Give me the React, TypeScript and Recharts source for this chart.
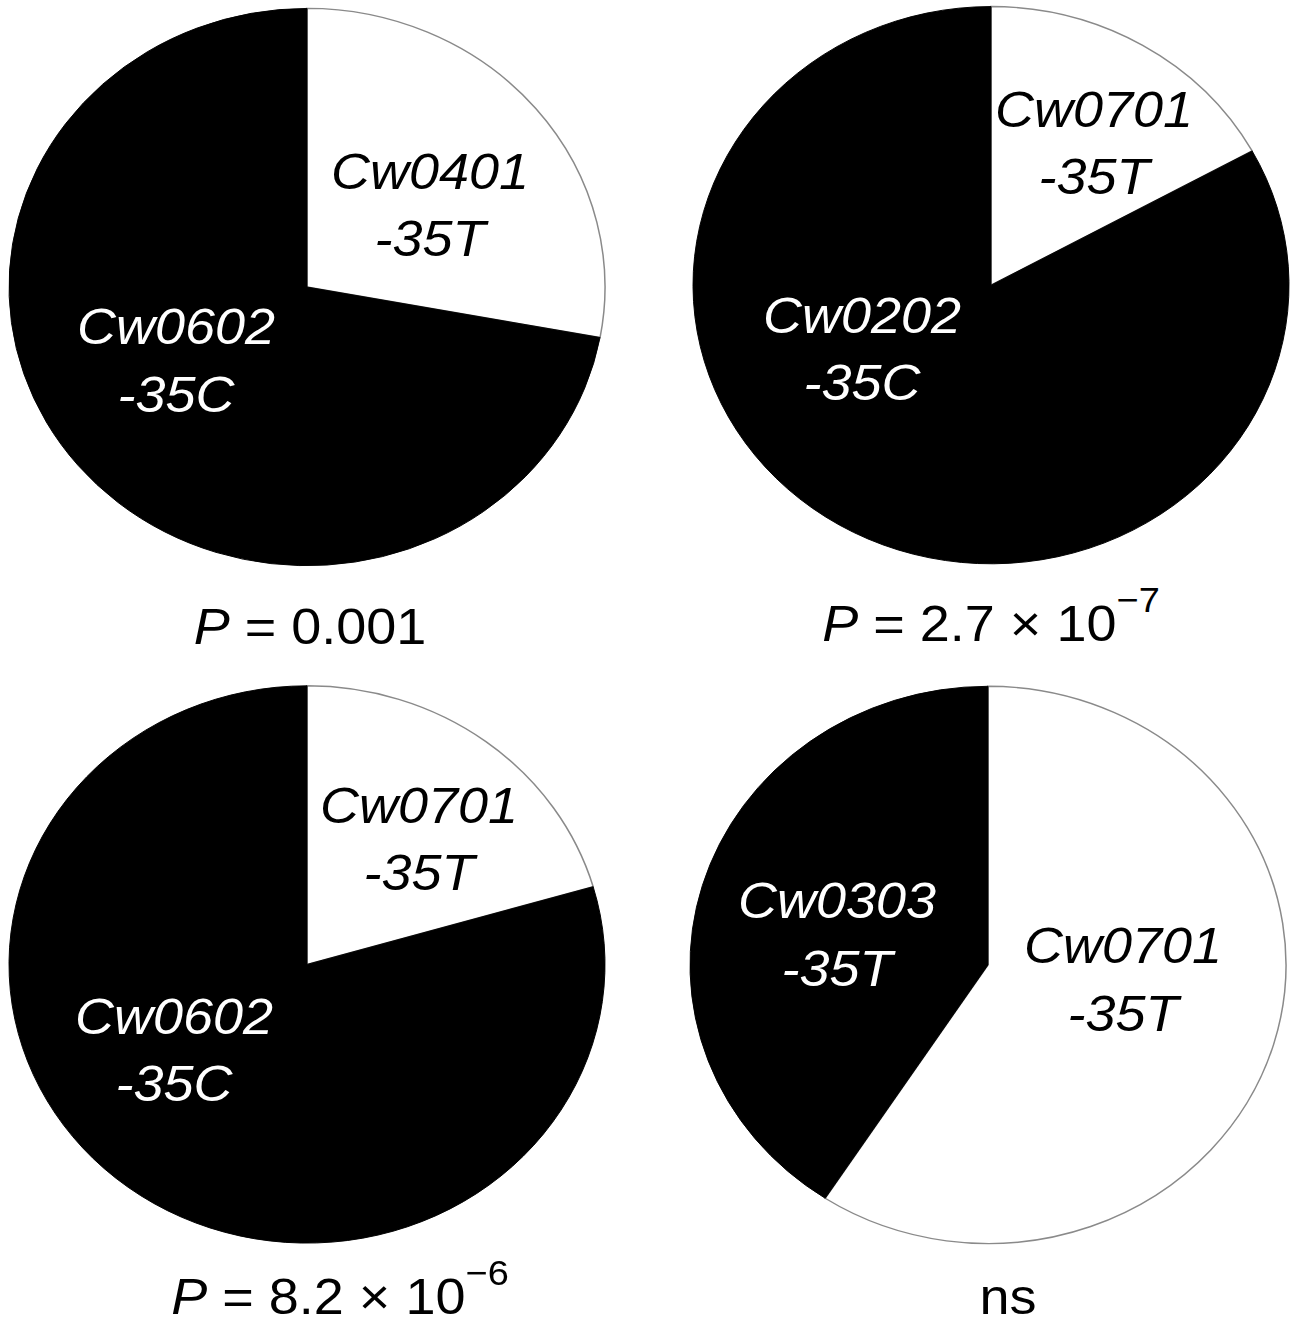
import { PieChart, Pie, Cell } from "recharts";

// allele share per panel, white slice first (clockwise from 12 o'clock)
const alleleNames = [
  ["Cw0401", "Cw0602"],
  ["Cw0701", "Cw0202"],
  ["Cw0701", "Cw0602"],
  ["Cw0701", "Cw0303"],
];
const promoterVariants = [
  ["-35T", "-35C"],
  ["-35T", "-35C"],
  ["-35T", "-35C"],
  ["-35T", "-35T"],
];
const frequencies = [
  [27.9, 72.1],
  [17.0, 83.0],
  [20.5, 79.5],
  [59.2, 40.8],
];
const pValueText = ["0.001", "2.7 × 10", "8.2 × 10", "ns"];
const pExponents = ["", "−7", "−6", ""];

// layout (the source figure is squeezed vertically)
const S = 0.935;
const W = 1291;
const HU = 1323 / S;
const RADIUS = 298;
const FONT = "'Liberation Sans', Arial, Helvetica, sans-serif";
const LABEL_SIZE = 54;
const LINE = 72;
const centers = [
  [307, 307],
  [991, 305],
  [307, 1031.5],
  [988, 1032],
];
const labelOffsets = [
  [[123, -88], [-131, 78]],
  [[103, -153], [-129, 68]],
  [[112, -135], [-133, 91]],
  [[135, 15], [-151, -33]],
];
const pLabelPos = [
  [310, 688.8],
  [991, 685.6],
  [340, 1404.5],
  [1008, 1404.5],
];
const sliceFills = ["#ffffff", "#000000"];
const sliceStrokes = ["#8a8a8a", "#000000"];

function sliceLabel(panel: number) {
  return (props: any) => {
    const idx = props.index ?? props.payload?.idx ?? 0;
    const [dx, dy] = labelOffsets[panel][idx];
    const x = props.cx + dx;
    const y = props.cy + dy - LINE / 2 + LABEL_SIZE * 0.358;
    return (
      <text
        x={x}
        y={y}
        textAnchor="middle"
        fill={idx === 0 ? "#000" : "#fff"}
        fontSize={LABEL_SIZE}
        fontStyle="italic"
        fontFamily={FONT}
      >
        <tspan x={x}>{alleleNames[panel][idx]}</tspan>
        <tspan x={x} dy={LINE}>
          {promoterVariants[panel][idx]}
        </tspan>
      </text>
    );
  };
}

export default function App() {
  return (
    <div
      style={{
        position: "absolute",
        left: 0,
        top: 0,
        width: W,
        height: HU,
        background: "#fff",
        fontFamily: FONT,
        transform: `scaleY(${S})`,
        transformOrigin: "0 0",
      }}
    >
      <PieChart width={W} height={HU} margin={{ top: 0, right: 0, bottom: 0, left: 0 }}>
        {frequencies.map((vals, p) => {
          const rows = vals.map((v, i) => ({
            name: alleleNames[p][i],
            variant: promoterVariants[p][i],
            value: v,
            idx: i,
          }));
          return (
            <Pie
              key={p}
              data={rows}
              dataKey="value"
              cx={centers[p][0]}
              cy={centers[p][1]}
              outerRadius={RADIUS}
              startAngle={90}
              endAngle={-270}
              label={sliceLabel(p)}
              labelLine={false}
              isAnimationActive={false}
            >
              {rows.map((r) => (
                <Cell
                  key={r.idx}
                  fill={sliceFills[r.idx]}
                  stroke={sliceStrokes[r.idx]}
                  strokeWidth={r.idx === 0 ? 1.5 : 1}
                />
              ))}
            </Pie>
          );
        })}
      </PieChart>
      {pValueText.map((t, p) => (
        <div
          key={p}
          style={{
            position: "absolute",
            left: pLabelPos[p][0] - 300,
            top: pLabelPos[p][1] - 45.7,
            width: 600,
            textAlign: "center",
            fontSize: 54,
            lineHeight: "54px",
            color: "#000",
            whiteSpace: "nowrap",
          }}
        >
          {t === "ns" ? (
            "ns"
          ) : (
            <>
              <span style={{ fontStyle: "italic" }}>P</span> = {t}
              {pExponents[p] && (
                <span style={{ fontSize: 38, position: "relative", top: -31 }}>{pExponents[p]}</span>
              )}
            </>
          )}
        </div>
      ))}
    </div>
  );
}
